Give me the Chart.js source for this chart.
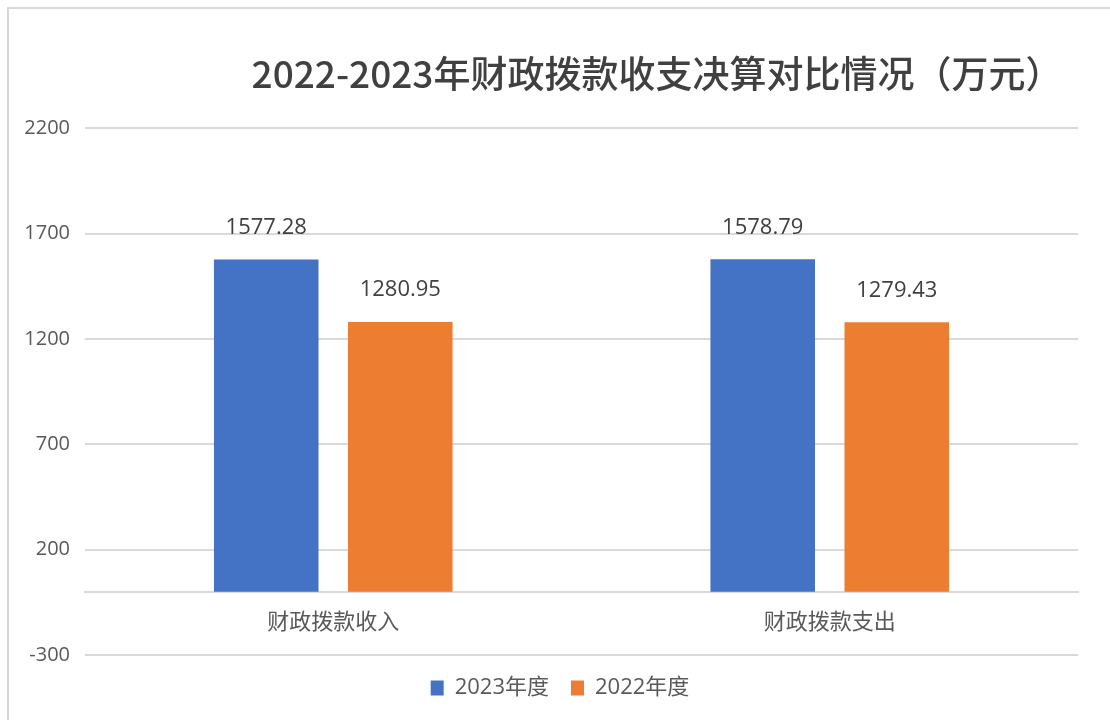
<!DOCTYPE html>
<html>
<head>
<meta charset="utf-8">
<script src="https://cdn.jsdelivr.net/npm/chart.js@4.4.0/dist/chart.umd.min.js"></script>
<style>
  html, body { margin: 0; padding: 0; background: #ffffff; overflow: hidden; }
  #wrap { position: relative; width: 1110px; height: 720px; }
  #frame { position: absolute; left: 7px; top: 7px; width: 1200px; height: 800px;
           border-top: 2px solid #d9d9d9; border-left: 2px solid #d9d9d9; pointer-events: none; }
  canvas { position: absolute; left: 0; top: 0; }
</style>
</head>
<body>
<div id="wrap">
  <canvas id="c" width="1110" height="720"></canvas>
  <div id="frame"></div>
</div>
<script>
const titleText = '2022-2023年财政拨款收支决算对比情况（万元）';
const categories = ['财政拨款收入', '财政拨款支出'];
const seriesNames = ['2023年度', '2022年度'];
const values2023 = [1577.28, 1578.79];
const values2022 = [1280.95, 1279.43];
const yMin = -300;
const yMax = 2200;
const yStep = 500;

const FONT = "'Open Sans', 'Noto Sans CJK SC', sans-serif";
const CJK = "'Noto Sans CJK SC', 'Open Sans', sans-serif";

const dataLabels = {
  id: 'dataLabels',
  afterDatasetsDraw(chart) {
    const ctx = chart.ctx;
    ctx.save();
    ctx.font = "22px " + FONT;
    ctx.fillStyle = '#404040';
    ctx.textAlign = 'center';
    ctx.textBaseline = 'middle';
    chart.data.datasets.forEach((ds, i) => {
      const meta = chart.getDatasetMeta(i);
      meta.data.forEach((bar, j) => {
        ctx.fillText(ds.data[j].toFixed(2), bar.x, bar.y - 32);
      });
    });
    ctx.restore();
  }
};

const blockShift = {
  id: 'blockShift',
  afterLayout(chart) {
    if (chart.titleBlock) { chart.titleBlock.left += 236; }
    if (chart.legend) { chart.legend.left += 42; }
  }
};

new Chart(document.getElementById('c'), {
  type: 'bar',
  data: {
    labels: categories,
    datasets: [
      { label: seriesNames[0], data: values2023, backgroundColor: '#4472C4', borderWidth: 0,
        categoryPercentage: 0.54, barPercentage: 0.78 },
      { label: seriesNames[1], data: values2022, backgroundColor: '#ED7D31', borderWidth: 0,
        categoryPercentage: 0.54, barPercentage: 0.78 }
    ]
  },
  options: {
    responsive: false,
    animation: false,
    devicePixelRatio: 1,
    layout: { padding: { left: 0, right: 32, top: 0, bottom: 11 } },
    plugins: {
      title: {
        display: true,
        text: titleText,
        color: '#404040',
        font: { family: CJK, size: 37, weight: '500', lineHeight: 1.2 },
        padding: { top: 52, bottom: 32 }
      },
      legend: {
        display: true,
        position: 'bottom',
        labels: {
          color: '#595959',
          font: { family: FONT, size: 22 },
          boxWidth: 13,
          boxHeight: 15,
          padding: 22
        }
      },
      tooltip: { enabled: false }
    },
    scales: {
      x: {
        position: { y: 0 },
        grid: { display: false, drawTicks: false },
        border: { display: true, color: '#d9d9d9', width: 2 },
        ticks: { color: '#595959', font: { family: CJK, size: 22 }, padding: 16 }
      },
      y: {
        min: yMin,
        max: yMax,
        ticks: { stepSize: yStep, color: '#595959', font: { family: FONT, size: 20 }, padding: 15,
                 callback: (v) => String(v) },
        grid: { color: '#d9d9d9', lineWidth: 2, drawTicks: false },
        border: { display: false },
        afterFit(scale) { scale.width = 85; }
      }
    }
  },
  plugins: [dataLabels, blockShift]
});
</script>
</body>
</html>
